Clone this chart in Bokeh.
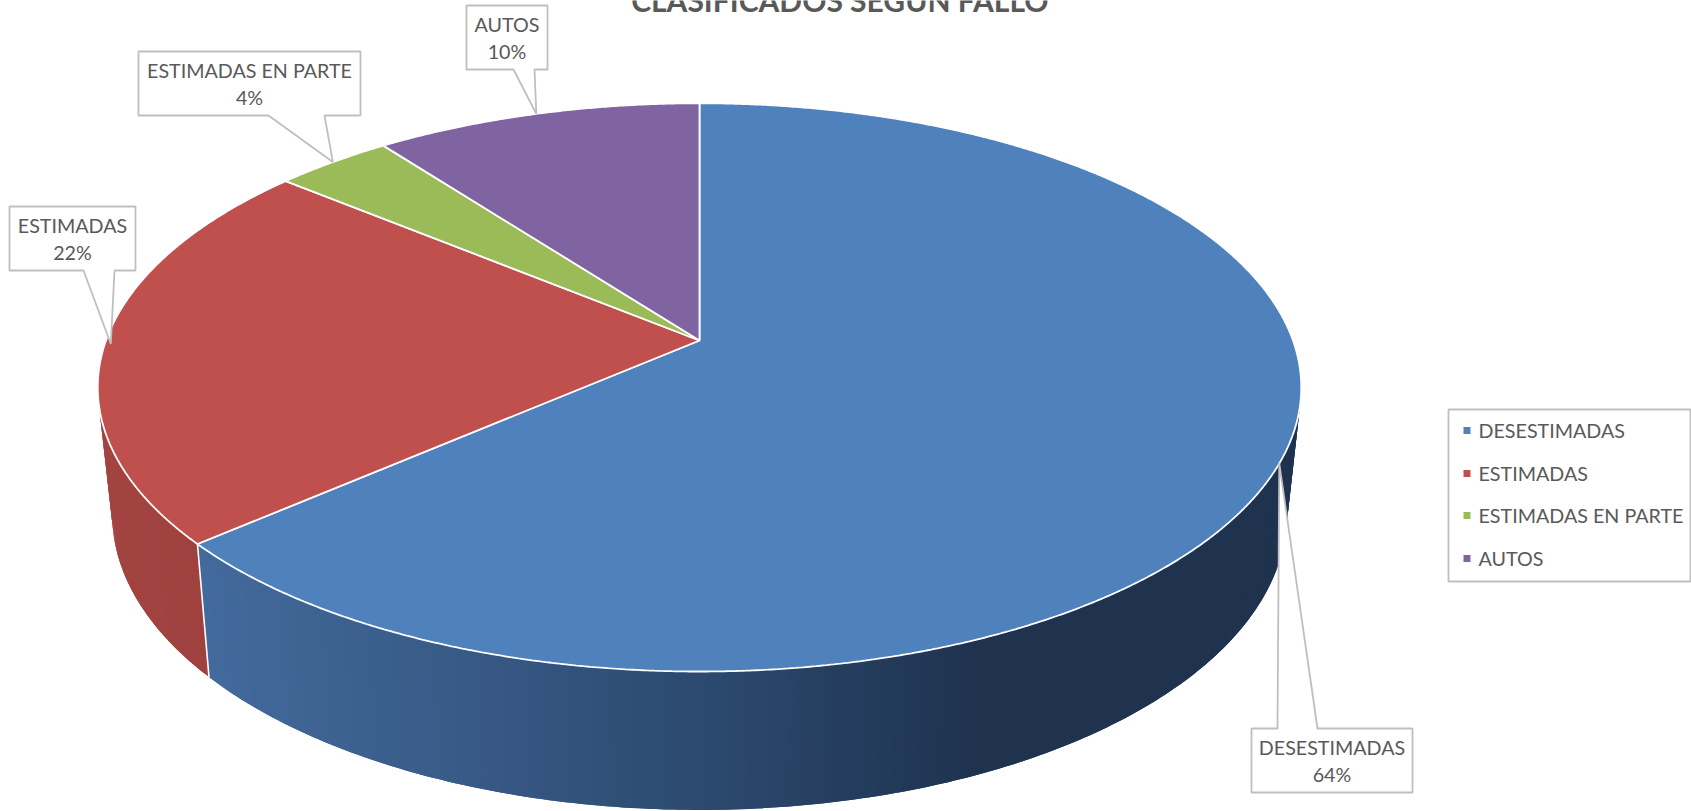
import math
from bokeh.plotting import figure
from bokeh.embed import file_html
from bokeh.resources import INLINE
from bokeh.core.properties import value

# ---- data ----
categories = ["DESESTIMADAS", "ESTIMADAS", "ESTIMADAS EN PARTE", "AUTOS"]
shares = [63.6, 22.4, 3.7, 10.3]
title_text = "CLASIFICADOS SEGUN FALLO"

# ---- style ----
top_colors = ["#4f81bd", "#c0504d", "#9bbb59", "#8064a2"]
TEXT = "#595959"
BORDER = "#bfbfbf"
FONT = value("Lato")
W, H = 1691, 811

# perspective of the disc
AX, AY = 699.0, 340.0
A1, B1, K1 = 593.5, 276.4, 0.165
BY = 465.0
A2, B2, K2 = 579.0, 286.9, 0.167


def top_pt(t):
    u, v = math.sin(t), math.cos(t)
    w = 1 + K1 * v
    return AX + A1 * u / w, AY - B1 * v / w


def bot_pt(t):
    u, v = math.sin(t), math.cos(t)
    w = 1 + K2 * v
    return AX + A2 * u / w, BY - B2 * v / w


def mix(stops, x):
    if x <= stops[0][0]:
        return "#%02x%02x%02x" % stops[0][1]
    for (x0, c0), (x1, c1) in zip(stops, stops[1:]):
        if x <= x1:
            f = (x - x0) / (x1 - x0)
            rgb_ = [round(c0[i] + (c1[i] - c0[i]) * f) for i in range(3)]
            return "#%02x%02x%02x" % tuple(rgb_)
    return "#%02x%02x%02x" % stops[-1][1]


def rgb(c):
    return tuple(int(c[i:i + 2], 16) for i in (1, 3, 5))


side_stops = [
    [(200, rgb("#436a9d")), (450, rgb("#385b87")), (700, rgb("#2c4a70")),
     (980, rgb("#1f334f")), (1300, rgb("#1f334f"))],
    [(100, rgb("#a34441")), (210, rgb("#9e413e"))],
    [(0, rgb("#7c9747")), (1691, rgb("#7c9747"))],
    [(0, rgb("#665082")), (1691, rgb("#665082"))],
]

p = figure(width=W, height=H, x_range=(0, W), y_range=(H, 0), output_backend="svg",
           toolbar_location=None, min_border=0, outline_line_color=None,
           background_fill_color="white", border_fill_color="white")
p.axis.visible = False
p.grid.visible = False

total = sum(shares)
edges = [0.0]
for s in shares:
    edges.append(edges[-1] + s / total * 2 * math.pi)

# side wall: overlapping bands along the rim
for i in range(len(shares)):
    a0, a1 = edges[i], edges[i + 1]
    n = max(2, int((a1 - a0) / 0.012))
    xs, ys, cols = [], [], []
    for j in range(n):
        t0 = a0 + (a1 - a0) * j / n
        t1 = a0 + (a1 - a0) * (j + 1) / n
        if math.cos((t0 + t1) / 2) > 0.25:
            continue
        t1x = min(a1, t1 + 0.012)
        q = [top_pt(t0), top_pt(t1), top_pt(t1x), bot_pt(t1x), bot_pt(t1), bot_pt(t0)]
        xs.append([c[0] for c in q])
        ys.append([c[1] for c in q])
        cols.append(mix(side_stops[i], top_pt(t0)[0]))
    if xs:
        p.patches(xs, ys, fill_color=cols, line_color=None)

# white edge where blue meets red on the wall
e = edges[1]
p.line([top_pt(e)[0], bot_pt(e)[0]], [top_pt(e)[1], bot_pt(e)[1]], line_color="white", line_width=1.6)

# top face
for i in range(len(shares)):
    a0, a1 = edges[i], edges[i + 1]
    n = max(8, int((a1 - a0) / 0.005))
    pts = [(AX, AY)] + [top_pt(a0 + (a1 - a0) * j / n) for j in range(n + 1)]
    p.patch([c[0] for c in pts], [c[1] for c in pts], fill_color=top_colors[i],
            line_color="white", line_width=1.8)

# callouts: (box l, r, t, b, base x0, base x1, base side)
boxes = [
    (1251, 1412, 728, 792, 1277, 1317, "top"),
    (9, 135, 206, 270, 83, 114, "bottom"),
    (138, 360, 51, 115, 268, 324, "bottom"),
    (466, 547, 5, 69, 513, 534, "bottom"),
]
for i, (l, r, t, b, b0, b1, side) in enumerate(boxes):
    mid = (edges[i] + edges[i + 1]) / 2
    tx, ty = top_pt(mid)
    if i == 1:
        tx += 6
    if side == "top":
        px = [l, b0, tx, b1, r, r, l]
        py = [t, t, ty, t, t, b, b]
    else:
        px = [l, r, r, b1, tx, b0, l]
        py = [t, t, b, b, ty, b, b]
    p.patch(px, py, fill_color="white", line_color=BORDER, line_width=1.8)
    cx = (l + r) / 2
    p.text([cx], [t + 18.5], text=[categories[i]], text_font=FONT, text_font_size="19.7px",
           text_color=TEXT, text_align="center", text_baseline="middle")
    p.text([cx], [t + 46], text=["%d%%" % round(shares[i] / total * 100)], text_font=FONT,
           text_font_size="19.7px", text_color=TEXT, text_align="center", text_baseline="middle")

# legend
p.patch([1448, 1690, 1690, 1448], [409, 409, 581, 581], fill_color="white",
        line_color=BORDER, line_width=1.8)
leg_y = [430, 473, 515, 558]
p.scatter([1466.5] * 4, leg_y, marker="square", size=7, fill_color=top_colors, line_color=None)
p.text([1478] * 4, leg_y, text=categories, text_font=FONT, text_font_size="19.7px",
       text_color=TEXT, text_align="left", text_baseline="middle")

# title, cut by the top of the picture as in the reference
p.text([1048], [-1], text=[title_text], text_font=FONT, text_font_size="30px",
       text_font_style="bold", text_color=TEXT, text_align="right", text_baseline="middle")

open("out.html", "w").write(file_html(p, INLINE))
